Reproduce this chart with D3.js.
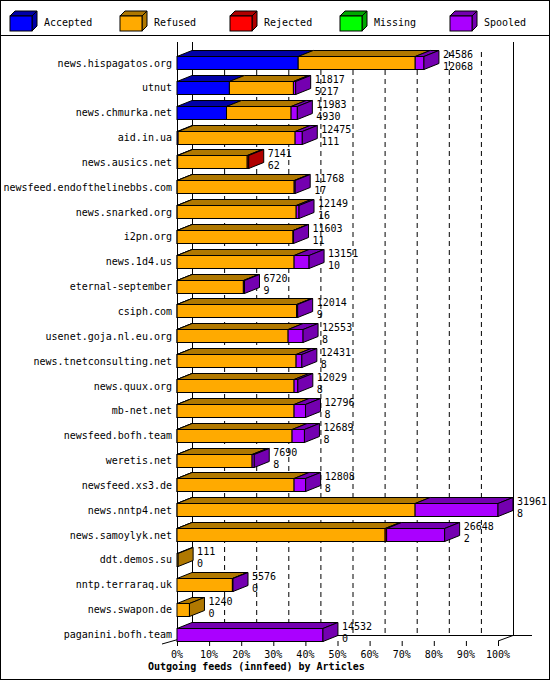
<!DOCTYPE html>
<html><head><meta charset="utf-8">
<script src="https://cdn.jsdelivr.net/npm/d3@7"></script>
<style>body{margin:0;background:#fff}text{font-family:"DejaVu Sans Mono",monospace;font-size:10px}</style>
</head><body><svg id="c" width="550" height="680"></svg>
<script>
const hosts = ["news.hispagatos.org","utnut","news.chmurka.net","aid.in.ua","news.ausics.net","newsfeed.endofthelinebbs.com","news.snarked.org","i2pn.org","news.1d4.us","eternal-september","csiph.com","usenet.goja.nl.eu.org","news.tnetconsulting.net","news.quux.org","mb-net.net","newsfeed.bofh.team","weretis.net","newsfeed.xs3.de","news.nntp4.net","news.samoylyk.net","ddt.demos.su","nntp.terraraq.uk","news.swapon.de","paganini.bofh.team"];
const offered  = [24586,11817,11983,12475,7141,11768,12149,11603,13151,6720,12014,12553,12431,12029,12796,12689,7690,12808,31961,26648,111,5576,1240,14532];
const accepted = [12068,5217,4930,111,62,17,16,11,10,9,9,8,8,8,8,8,8,8,8,2,0,0,0,0];
const refused  = [11650,6374,6430,11650,6929,11650,11850,11540,11650,6600,11900,11055,11850,11650,11650,11450,7470,11650,23700,20720,111,5516,1240,0];
const rejected = [0,0,0,0,150,0,0,0,0,0,0,0,0,0,0,0,0,0,0,150,0,0,0,0];
const missing  = [0,0,0,0,0,0,0,0,0,0,0,0,0,0,0,0,0,0,0,0,0,0,0,0];
const spooled  = hosts.map((h,i)=>offered[i]-accepted[i]-refused[i]-rejected[i]-missing[i]);
const seriesNames = ["Accepted","Refused","Rejected","Missing","Spooled"];
const front = ["#0000ff","#ffaa00","#ff0000","#00ff00","#aa00ff"];
const dark  = ["#0000a8","#b07800","#b00000","#00a800","#7400b0"];
const ticks = [0,10,20,30,40,50,60,70,80,90,100];

const svg = d3.select("#c");
const DX = 15, DY = 6, BH = 13;
const x = d3.scaleLinear().domain([0, d3.max(offered)]).range([177, 498]);
const xp = d3.scaleLinear().domain([0, 100]).range([177, 498]);
const y = d3.scalePoint().domain(hosts).range([62.5, 634]);

svg.append("rect").attr("x",0.5).attr("y",0.5).attr("width",549).attr("height",679).attr("fill","none").attr("stroke","#000");
svg.append("line").attr("x1",0).attr("x2",550).attr("y1",35.5).attr("y2",35.5).attr("stroke","#000");

// legend
seriesNames.forEach((n,i)=>{
  const lx = 10 + i*110, ly = 16, w = 22, h = 15, d = 5;
  const g = svg.append("g");
  g.append("polygon").attr("points",`${lx},${ly} ${lx+d},${ly-d} ${lx+w+d},${ly-d} ${lx+w},${ly}`).attr("fill",dark[i]).attr("stroke","#000");
  g.append("polygon").attr("points",`${lx+w},${ly} ${lx+w+d},${ly-d} ${lx+w+d},${ly+h-d} ${lx+w},${ly+h}`).attr("fill",dark[i]).attr("stroke","#000");
  g.append("rect").attr("x",lx).attr("y",ly).attr("width",w).attr("height",h).attr("fill",front[i]).attr("stroke","#000");
  g.append("text").attr("x",lx+34).attr("y",ly+10).text(n);
});

// back walls and grid
svg.append("line").attr("x1",192.5).attr("x2",192.5).attr("y1",42).attr("y2",636).attr("stroke","#000");
svg.append("line").attr("x1",513.5).attr("x2",513.5).attr("y1",42).attr("y2",636).attr("stroke","#000");
ticks.slice(1,-1).forEach(t=>{
  svg.append("line").attr("x1",xp(t)+DX+0.5).attr("x2",xp(t)+DX+0.5).attr("y1",52).attr("y2",636)
    .attr("stroke","#000").attr("stroke-dasharray","5,4");
});
// floor
svg.append("line").attr("x1",192).attr("x2",532).attr("y1",635.5).attr("y2",635.5).attr("stroke","#000");
svg.append("line").attr("x1",162).attr("x2",192).attr("y1",644).attr("y2",635.5).attr("stroke","#000");
svg.append("line").attr("x1",498).attr("x2",513).attr("y1",641).attr("y2",635.5).attr("stroke","#000");
svg.append("line").attr("x1",177.5).attr("x2",177.5).attr("y1",42).attr("y2",641).attr("stroke","#000");
ticks.forEach(t=>{
  svg.append("line").attr("x1",xp(t)+0.5).attr("x2",xp(t)+0.5).attr("y1",641).attr("y2",646).attr("stroke","#000");
  svg.append("text").attr("x",xp(t)).attr("y",658).attr("text-anchor","middle").text(t+"%");
});
svg.append("text").attr("x",148).attr("y",670).attr("font-weight","bold").attr("font-size","11px").text("Outgoing feeds (innfeed) by Articles");

// bars
const cols = [accepted, refused, rejected, missing, spooled];
hosts.forEach((h,i)=>{
  const yc = y(h), top = Math.round(yc - BH/2) + 0.5;
  const g = svg.append("g");
  let acc = 0, lastIdx = -1, x1end = x(0);
  cols.forEach((c,k)=>{
    const v = c[i]; if (v <= 0) return;
    const x0 = x(acc), x1 = x(acc+v); acc += v;
    g.append("polygon").attr("points",`${x0},${top} ${x0+DX},${top-DY} ${x1+DX},${top-DY} ${x1},${top}`).attr("fill",dark[k]).attr("stroke","#000");
    g.append("rect").attr("x",x0).attr("y",top).attr("width",Math.max(0,x1-x0)).attr("height",BH).attr("fill",front[k]).attr("stroke","#000");
    lastIdx = k; x1end = x1;
  });
  if (lastIdx >= 0) {
    g.append("polygon").attr("points",`${x1end},${top} ${x1end+DX},${top-DY} ${x1end+DX},${top+BH-DY} ${x1end},${top+BH}`).attr("fill",dark[lastIdx]).attr("stroke","#000");
  }
  svg.append("text").attr("x",172).attr("y",yc+4).attr("text-anchor","end").text(h);
  svg.append("text").attr("x",x1end+DX+4).attr("y",top+1).text(offered[i]);
  svg.append("text").attr("x",x1end+DX+4).attr("y",top+13).text(accepted[i]);
});
</script></body></html>
